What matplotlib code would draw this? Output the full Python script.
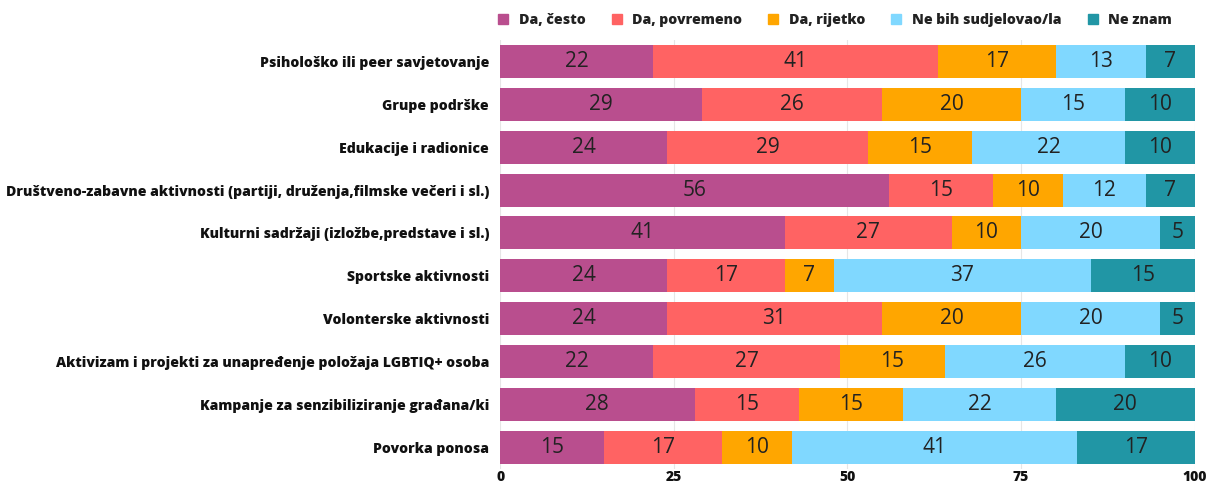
import matplotlib
matplotlib.use("Agg")
import matplotlib.pyplot as plt
from matplotlib.lines import Line2D

categories = [
    "Psihološko ili peer savjetovanje",
    "Grupe podrške",
    "Edukacije i radionice",
    "Društveno-zabavne aktivnosti (partiji, druženja,filmske večeri i sl.)",
    "Kulturni sadržaji (izložbe,predstave i sl.)",
    "Sportske aktivnosti",
    "Volonterske aktivnosti",
    "Aktivizam i projekti za unapređenje položaja LGBTIQ+ osoba",
    "Kampanje za senzibiliziranje građana/ki",
    "Povorka ponosa",
]
series_names = ["Da, često", "Da, povremeno", "Da, rijetko", "Ne bih sudjelovao/la", "Ne znam"]

da_cesto = [22, 29, 24, 56, 41, 24, 24, 22, 28, 15]
da_povremeno = [41, 26, 29, 15, 24, 17, 31, 27, 15, 17]
da_rijetko = [17, 20, 15, 10, 10, 7, 20, 15, 15, 10]
ne_bih = [13, 15, 22, 12, 20, 37, 20, 26, 22, 41]
ne_znam = [7, 10, 10, 7, 5, 15, 5, 10, 20, 17]
# labels as printed on the chart (one printed label differs from its bar width)
povremeno_labels = [41, 26, 29, 15, 27, 17, 31, 27, 15, 17]

x_ticks = [0, 25, 50, 75, 100]
colors = ["#B94E8E", "#FF6363", "#FFA600", "#80D8FF", "#2196A5"]

series = [da_cesto, da_povremeno, da_rijetko, ne_bih, ne_znam]
labels = [da_cesto, povremeno_labels, da_rijetko, ne_bih, ne_znam]

fig = plt.figure(figsize=(12.08, 4.86), dpi=100)
ax = fig.add_axes([0.414, 0.036, 0.575, 0.8813])

ypos = list(range(len(categories)))
left = [0] * len(categories)
for vals, labs, col, name in zip(series, labels, colors, series_names):
    ax.barh(ypos, vals, left=left, height=0.77, color=col, zorder=2, label=name)
    for y, v, l, lab in zip(ypos, vals, left, labs):
        ax.text(l + v / 2, y, str(lab), ha="center", va="center",
                fontsize=15, color="#222222", family="Open Sans", zorder=3)
    left = [a + b for a, b in zip(left, vals)]

ax.set_xlim(0, 100)
ax.set_ylim(9.5, -0.5)
ax.set_yticks(ypos)
ax.set_yticklabels(categories, fontsize=10.1, fontweight=800, family="Open Sans", color="#111111")
ax.set_xticks(x_ticks)
ax.set_xticklabels([str(t) for t in x_ticks], fontsize=10, fontweight=800, family="Open Sans", color="#111111")
ax.tick_params(axis="both", length=0)
ax.tick_params(axis="y", pad=8)
ax.tick_params(axis="x", pad=1)
for s in ax.spines.values():
    s.set_visible(False)
ax.grid(axis="x", color="#e6e6e6", linewidth=0.8, zorder=0)

handles = [Line2D([0], [0], marker="s", linestyle="none", markersize=7,
                  markerfacecolor=c, markeredgecolor=c) for c in colors]
leg = fig.legend(handles, series_names, loc="center left", bbox_to_anchor=(0.400, 0.959),
                 ncol=5, frameon=False, handlelength=1.0, handletextpad=0.6, columnspacing=1.7,
                 prop={"family": "Open Sans", "weight": 800, "size": 10.2})
for t in leg.get_texts():
    t.set_color("#222222")

fig.savefig("out.png", dpi=100)
